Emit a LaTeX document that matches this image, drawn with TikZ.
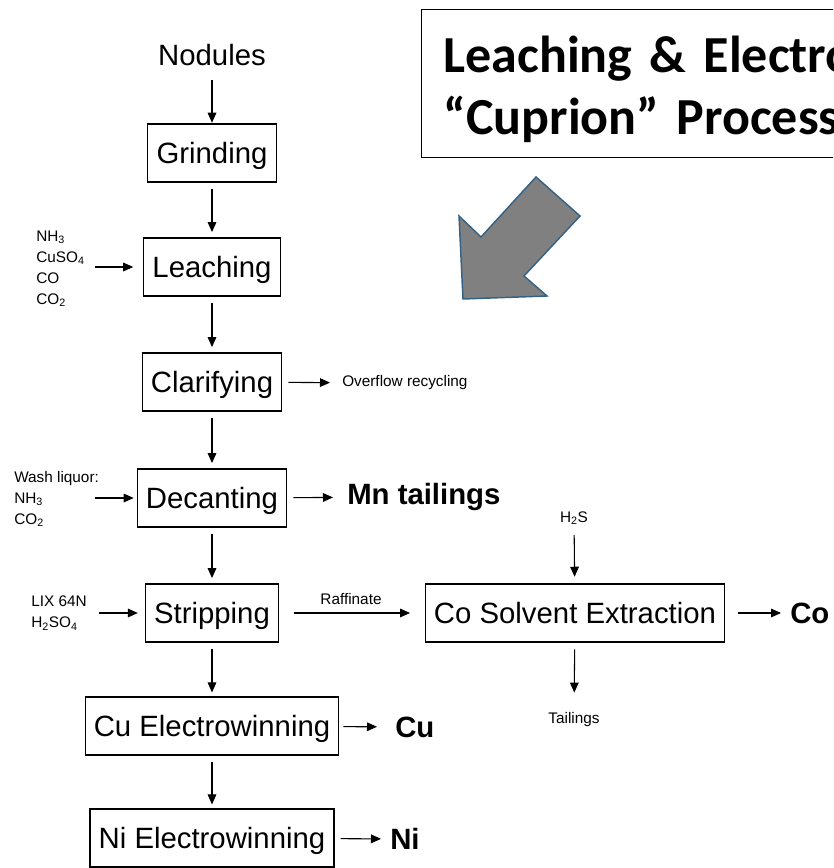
\documentclass[tikz,border=0pt]{standalone}
\usepackage{fontspec}
\setmainfont{Liberation Sans}
\newfontfamily\titlefont{Carlito}
\usetikzlibrary{arrows.meta}

\definecolor{arrowedge}{RGB}{52,98,135}
\definecolor{arrowfill}{RGB}{128,128,128}

\tikzset{
    stage/.style={draw, line width=0.9pt, inner xsep=6.5pt, minimum height=43.5pt,
        text height=15.8pt, text depth=0pt, font=\fontsize{22}{26}\selectfont},
    note/.style={inner sep=0pt, align=left, font=\fontsize{11.5}{15.75}\selectfont},
    product/.style={inner sep=0pt, font=\fontsize{22}{26}\selectfont\bfseries},
    flow/.style={line width=0.8pt, -{Triangle[length=7.5pt,width=6.5pt]}},
}

\begin{document}
\begin{tikzpicture}[x=0.75pt, y=-0.75pt]
        \useasboundingbox (0, 0) rectangle (833, 868);
        \clip (0, 0) rectangle (833, 868);
        %\draw[color=lightgray, step=50] (0, 0) grid (833, 868);

        % title and big arrow
        \node[draw, line width=0.9pt, anchor=north west, minimum height=111pt,
              inner xsep=16.5pt, text width=600pt, align=left,
              font=\titlefont\fontsize{39}{46.5}\selectfont\bfseries]
              (title) at (421, 9) {\rule{0pt}{36pt}Leaching \& Electrowinning\\“Cuprion” Process};
        \draw[fill=arrowfill, draw=arrowedge, line width=1.1pt]
              (536, 177) -- (580, 216) -- (524, 276) -- (547, 296)
              -- (463, 299) -- (459, 216) -- (481, 237) -- cycle;

        % main line
        \node[inner sep=0pt, font=\fontsize{22}{26}\selectfont] (nodules) at (212, 55) {Nodules};
        \node[stage] (grind) at (212, 153) {Grinding};
        \node[stage] (leach) at (212, 267) {Leaching};
        \node[stage] (clar) at (212, 382) {Clarifying};
        \node[stage] (decant) at (212, 498) {Decanting};
        \node[stage] (strip) at (212, 613) {Stripping};
        \node[stage] (cuew) at (212, 726) {Cu Electrowinning};
        \node[stage] (niew) at (212, 838) {Ni Electrowinning};
        \node[stage] (cosx) at (575, 613) {Co Solvent Extraction};

        \draw[flow, shorten <=10.5pt, shorten >=0.5pt] (nodules) -- (grind);
        \draw[flow, shorten <=4.5pt, shorten >=4pt] (grind) -- (leach);
        \draw[flow, shorten <=4.5pt, shorten >=4pt] (leach) -- (clar);
        \draw[flow, shorten <=4.5pt, shorten >=4pt] (clar) -- (decant);
        \draw[flow, shorten <=4.5pt, shorten >=4pt] (decant) -- (strip);
        \draw[flow, shorten <=4.5pt, shorten >=3pt] (strip) -- (cuew);
        \draw[flow, shorten <=4.5pt, shorten >=3pt] (cuew) -- (niew);

        % inputs
        \node[note, anchor=west] (leachin) at (36, 268.5)
              {NH\textsubscript{3}\\CuSO\textsubscript{4}\\CO\\CO\textsubscript{2}};
        \coordinate (leachsrc) at (95, 267);
        \draw[flow, shorten >=7.5pt] (leachsrc) -- (leach);
        \node[note, anchor=west] (washin) at (14, 499)
              {Wash liquor:\\NH\textsubscript{3}\\CO\textsubscript{2}};
        \coordinate (washsrc) at (95, 498);
        \draw[flow, shorten >=2.25pt] (washsrc) -- (decant);
        \node[note, anchor=west] (lixin) at (31, 613) {LIX 64N\\H\textsubscript{2}SO\textsubscript{4}};
        \coordinate (lixsrc) at (99, 613);
        \draw[flow, shorten >=5.25pt] (lixsrc) -- (strip);
        \node[note] (h2s) at (574, 518) {H\textsubscript{2}S};
        \draw[flow, shorten <=7.5pt, shorten >=5pt] (h2s) -- (cosx);

        % outputs
        \node[note, anchor=west] (overflow) at (342, 383) {Overflow recycling};
        \draw[flow, shorten <=4.5pt, shorten >=9pt] (clar) -- (overflow);
        \node[product, anchor=west] (mn) at (347, 497) {Mn tailings};
        \draw[flow, shorten <=4.5pt, shorten >=10.5pt] (decant) -- (mn);
        \node[note] (raff) at (351, 599) {Raffinate};
        \draw[flow, shorten <=11pt, shorten >=11pt] (strip) -- (cosx);
        \node[product, anchor=west] (co) at (790, 613) {Co};
        \draw[flow, shorten <=9.75pt, shorten >=6.75pt] (cosx) -- (co);
        \node[note] (tail) at (574, 720) {Tailings};
        \draw[flow, shorten <=5pt, shorten >=15pt] (cosx) -- (tail);
        \node[product, anchor=west] (cu) at (395, 727) {Cu};
        \draw[flow, shorten <=3pt, shorten >=13.5pt] (cuew) -- (cu);
        \node[product, anchor=west] (ni) at (390, 839) {Ni};
        \draw[flow, shorten <=4.5pt, shorten >=6.75pt] (niew) -- (ni);
\end{tikzpicture}
\end{document}
